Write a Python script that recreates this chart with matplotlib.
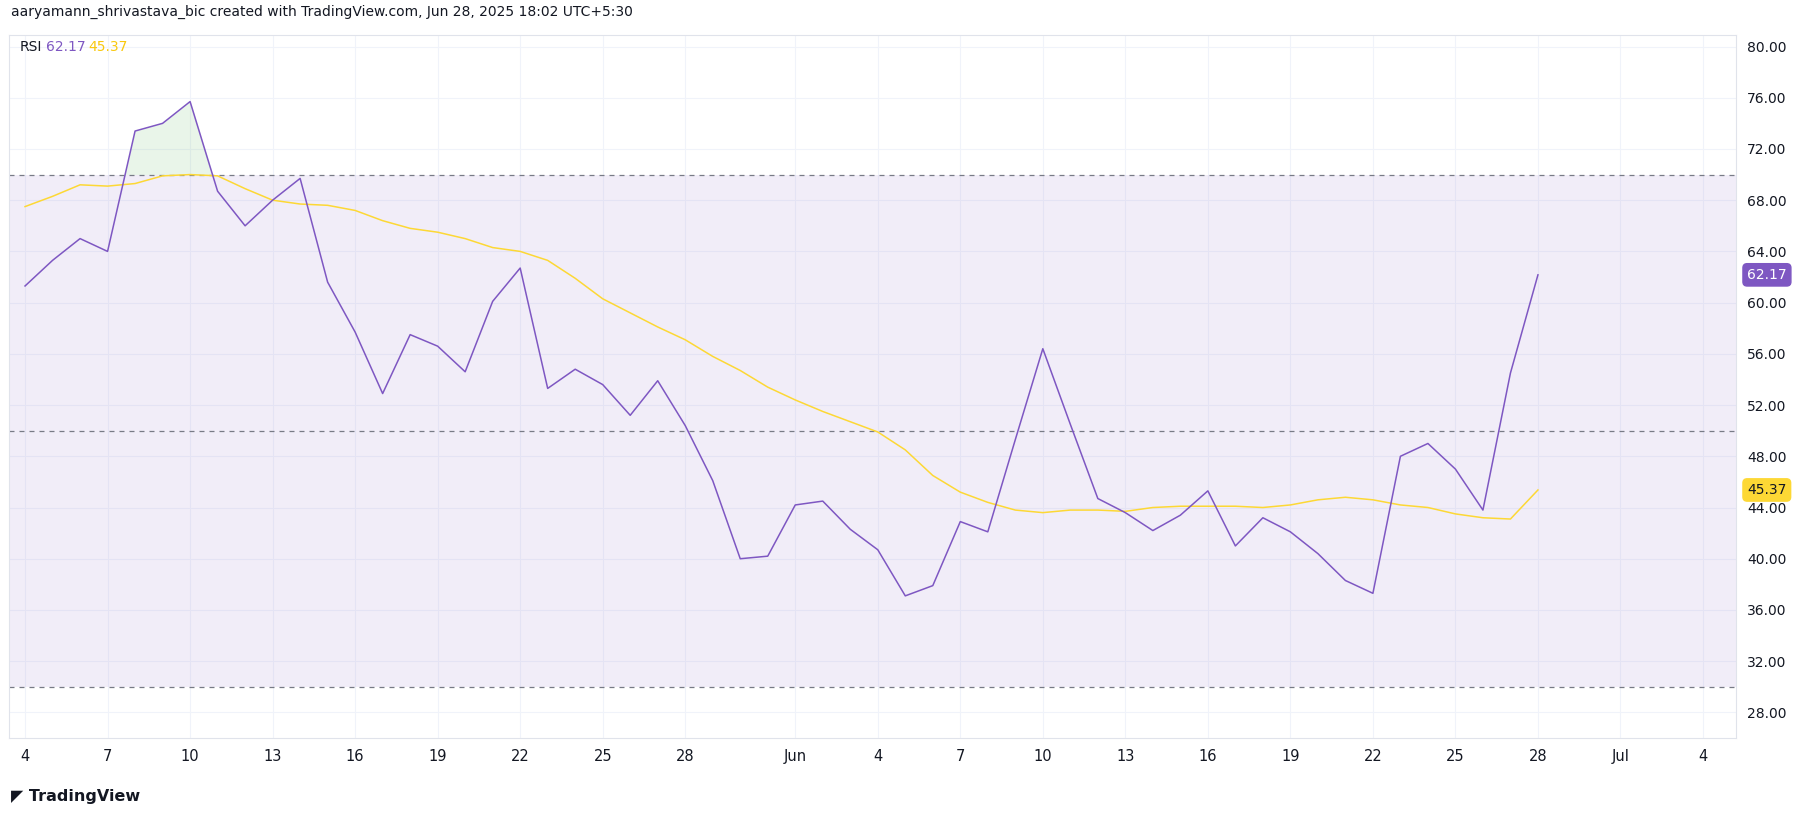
import matplotlib
matplotlib.use("Agg")
import matplotlib.pyplot as plt
import numpy as np
import pandas as pd

dates = pd.date_range("2025-05-04", "2025-06-28", freq="D")
rsi = [61.3,63.3,65.0,64.0,73.4,74.0,75.7,68.7,66.0,68.0,69.7,61.6,57.7,52.9,57.5,56.6,54.6,60.1,62.7,53.3,
       54.8,53.6,51.2,53.9,50.4,46.1,40.0,40.2,44.2,44.5,42.3,40.7,37.1,37.9,42.9,42.1,49.3,56.4,50.5,44.7,
       43.6,42.2,43.4,45.3,41.0,43.2,42.1,40.4,38.3,37.3,48.0,49.0,47.0,43.8,54.5,62.17]
rsi_ma = [67.5,68.3,69.2,69.1,69.3,69.9,70.0,69.9,68.9,68.0,67.7,67.6,67.2,66.4,65.8,65.5,65.0,64.3,64.0,63.3,
          61.9,60.3,59.2,58.1,57.1,55.8,54.7,53.4,52.4,51.5,50.7,49.9,48.5,46.5,45.2,44.4,43.8,43.6,43.8,43.8,
          43.7,44.0,44.1,44.1,44.1,44.0,44.2,44.6,44.8,44.6,44.2,44.0,43.5,43.2,43.1,45.37]
rsi_ma = rsi_ma[:len(dates)]
yticks = [28,32,36,40,44,48,52,56,60,64,68,72,76,80]
xtick_dates = pd.to_datetime(["2025-05-04","2025-05-07","2025-05-10","2025-05-13","2025-05-16","2025-05-19",
    "2025-05-22","2025-05-25","2025-05-28","2025-06-01","2025-06-04","2025-06-07","2025-06-10","2025-06-13",
    "2025-06-16","2025-06-19","2025-06-22","2025-06-25","2025-06-28","2025-07-01","2025-07-04"])
xtick_labels = ["4","7","10","13","16","19","22","25","28","Jun","4","7","10","13","16","19","22","25","28","Jul","4"]

W, H = 1814, 816
fig = plt.figure(figsize=(W/100, H/100), dpi=100)
ax = fig.add_axes([9/W, 1-738/H, (1736-9)/W, (738-35)/H])
purple = "#7E57C2"; yellow = "#FDD835"; txt = "#131722"

ax.axhspan(30, 70, color=purple, alpha=0.1, lw=0)
for lvl in (30, 50, 70):
    ax.axhline(lvl, color="#787B86", lw=0.9, ls=(0, (4, 4)))
for y in yticks:
    ax.axhline(y, color="#F0F3FA", lw=0.8, zorder=0)
for d in xtick_dates:
    ax.axvline(d, color="#F0F3FA", lw=0.8, zorder=0)

r = np.array(rsi)
ax.fill_between(dates, 70, r, where=r > 70, interpolate=True, color="#4CAF50", alpha=0.12, lw=0)
ax.fill_between(dates, 30, r, where=r < 30, interpolate=True, color="#F23645", alpha=0.12, lw=0)
ax.plot(dates, rsi_ma, color=yellow, lw=1.1)
ax.plot(dates, rsi, color=purple, lw=1.1)

x0 = dates[0] - pd.Timedelta(hours=14)
x1 = dates[0] + pd.Timedelta(days=62.2)
ax.set_xlim(x0, x1)
ax.set_ylim(26.0, 80.9)
ax.yaxis.tick_right()
ax.set_yticks(yticks)
ax.set_yticklabels([f"{v:.2f}" for v in yticks], fontsize=10, color=txt)
ax.set_xticks(xtick_dates)
ax.set_xticklabels(xtick_labels, fontsize=10.5, color=txt)
ax.tick_params(length=0, pad=8)
for s in ax.spines.values():
    s.set_color("#E0E3EB"); s.set_linewidth(0.8)

for val, col, tc in ((rsi[-1], purple, "white"), (rsi_ma[-1], yellow, txt)):
    ax.annotate(f"{val:.2f}", xy=(1, val), xycoords=("axes fraction", "data"), xytext=(8, 0),
                textcoords="offset points", va="center", ha="left", fontsize=10, color=tc,
                bbox=dict(boxstyle="round,pad=0.3", fc=col, ec=col))

fig.text(11/W, 1-12/H, "aaryamann_shrivastava_bic created with TradingView.com, Jun 28, 2025 18:02 UTC+5:30",
         fontsize=10, color=txt, va="center")
fig.text(20/W, 1-47/H, "RSI", fontsize=10, color=txt, va="center")
fig.text(46/W, 1-47/H, f"{rsi[-1]:.2f}", fontsize=10, color=purple, va="center")
fig.text(88/W, 1-47/H, f"{rsi_ma[-1]:.2f}", fontsize=10, color="#F9C80E", va="center")
fig.text(11/W, 1-796/H, "\u25e4 TradingView", fontsize=11.5, color=txt, va="center", fontweight="bold")
fig.savefig("out.png", dpi=100, facecolor="white")
